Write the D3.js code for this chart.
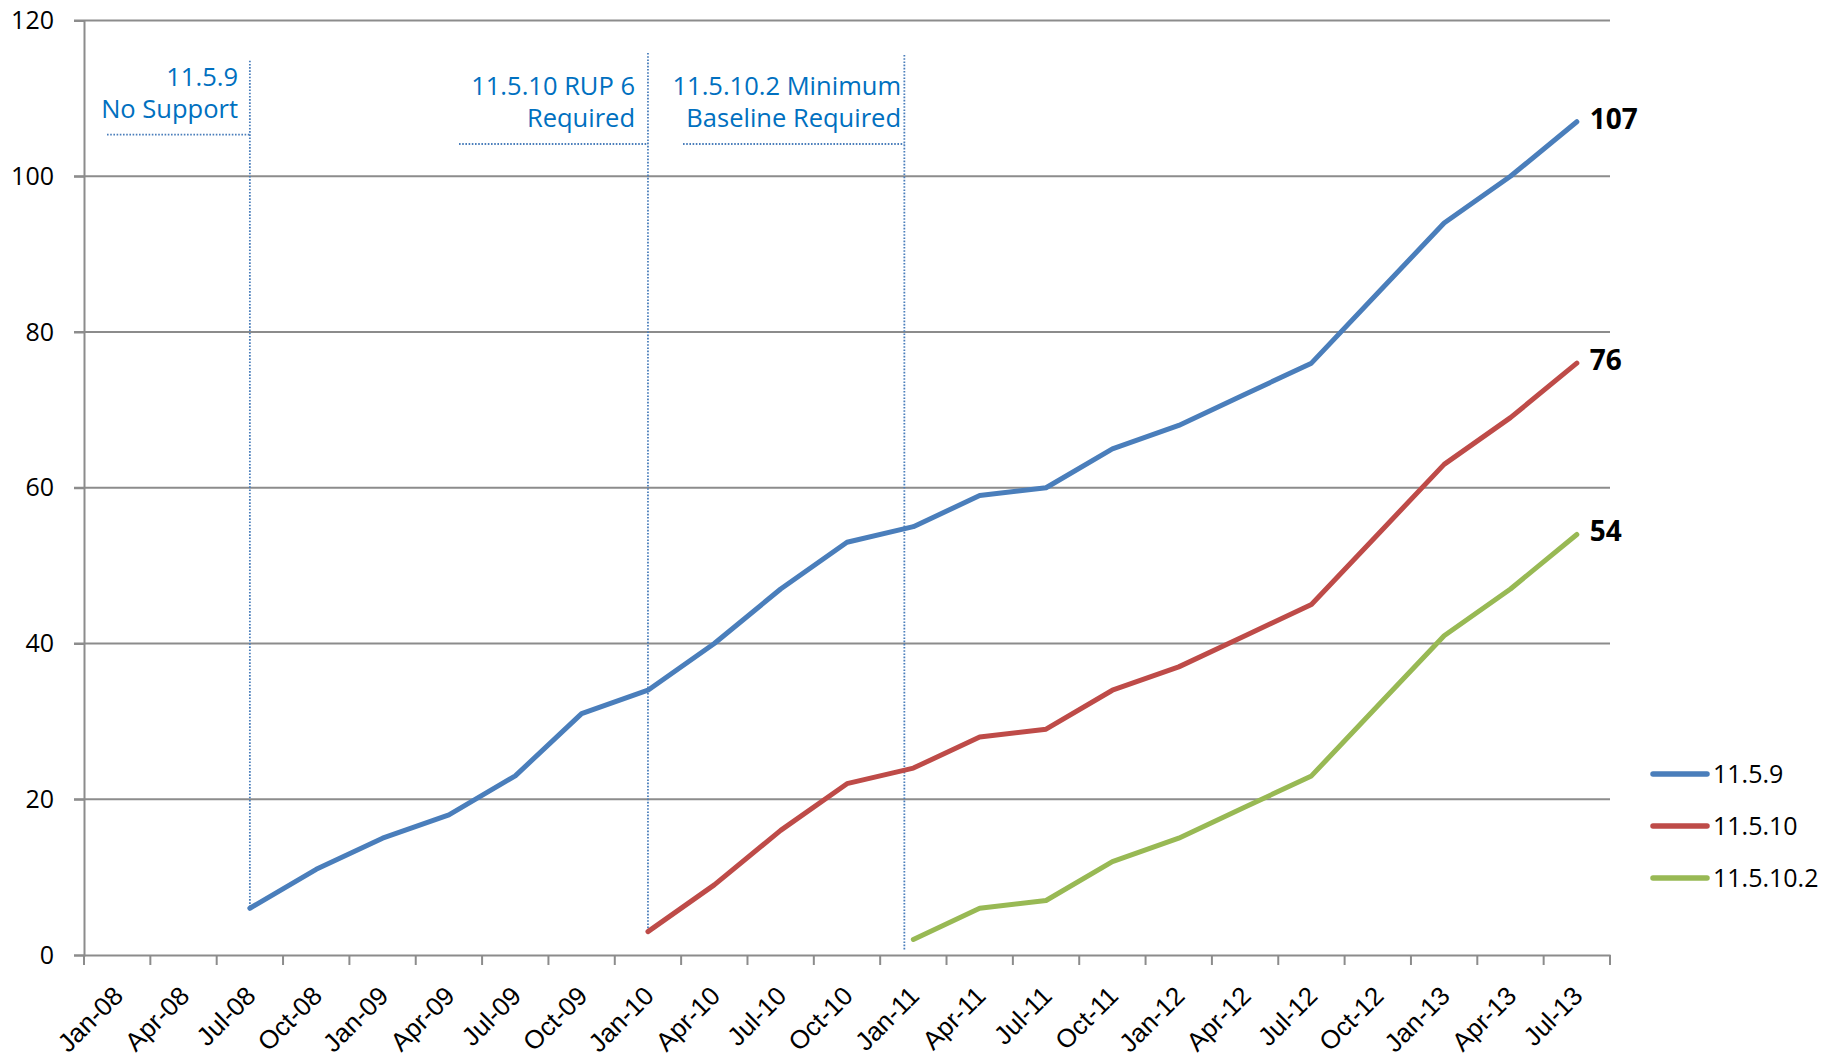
<!DOCTYPE html>
<html><head><meta charset="utf-8">
<script src="https://cdn.jsdelivr.net/npm/d3@7"></script>
<style>
html,body{margin:0;padding:0;background:#fff;}
svg{display:block;font-family:"Open Sans",sans-serif;}
</style></head>
<body><svg id="chart" width="1837" height="1058"></svg>
<script>
const categories = ["Jan-08","Apr-08","Jul-08","Oct-08","Jan-09","Apr-09","Jul-09","Oct-09","Jan-10","Apr-10","Jul-10","Oct-10","Jan-11","Apr-11","Jul-11","Oct-11","Jan-12","Apr-12","Jul-12","Oct-12","Jan-13","Apr-13","Jul-13"];
const seriesNames = ["11.5.9","11.5.10","11.5.10.2"];
const seriesColors = ["#4a7ebb","#be4b48","#98b954"];
const s1159 = [null,null,6,11,15,18,23,31,34,40,47,53,55,59,60,65,68,72,76,85,94,100,107];
const s11510 = [null,null,null,null,null,null,null,null,3,9,16,22,24,28,29,34,37,41,45,54,63,69,76];
const s115102 = [null,null,null,null,null,null,null,null,null,null,null,null,2,6,7,12,15,19,23,32,41,47,54];
const yTicks = [0,20,40,60,80,100,120];
const annotLines = [["11.5.9","No Support"],["11.5.10 RUP 6","Required"],["11.5.10.2 Minimum","Baseline Required"]];
const annotCats = ["Jul-08","Jan-10","Jan-11"];
const annotBottom = [6,3,0.5];

const svg = d3.select("#chart");
const M = {left:84, right:1610, top:20.5, bottom:955};
const x = d3.scaleBand().domain(categories).range([M.left, M.right]).padding(0);
const y = d3.scaleLinear().domain([0,120]).range([M.bottom, M.top]);
const cx = c => x(c) + x.bandwidth()/2;
const grey = "#8c8c8c";

// gridlines
svg.append("g").selectAll("line").data(yTicks.filter(d=>d>0)).join("line")
  .attr("x1", M.left-10).attr("x2", M.right).attr("y1", d=>y(d)).attr("y2", d=>y(d))
  .attr("stroke", grey).attr("stroke-width", 2);

// y axis
const yAxis = svg.append("g").attr("transform",`translate(${M.left},0)`)
  .call(d3.axisLeft(y).tickValues(yTicks).tickSize(10).tickPadding(20));
yAxis.select(".domain").attr("stroke", grey).attr("stroke-width", 2);
yAxis.selectAll(".tick line").attr("stroke", grey).attr("stroke-width", 2);
yAxis.selectAll(".tick text").attr("font-family","Open Sans").attr("font-size", 25).attr("fill","#000");

// x axis
const xAxis = svg.append("g").attr("transform",`translate(0,${M.bottom})`)
  .call(d3.axisBottom(x).tickSize(0).tickFormat(""));
xAxis.select(".domain").attr("stroke", grey).attr("stroke-width", 2);
const bounds = categories.map(c=>x(c)).concat([M.right]);
xAxis.append("g").selectAll("line").data(bounds).join("line")
  .attr("x1", d=>d).attr("x2", d=>d).attr("y1", 0).attr("y2", 10)
  .attr("stroke", grey).attr("stroke-width", 2);
xAxis.append("g").selectAll("text").data(categories).join("text")
  .attr("transform", d=>`translate(${cx(d)+1},${36}) rotate(-45)`)
  .attr("text-anchor","end").attr("dy","0.35em")
  .attr("font-size", 26).attr("fill","#000").text(d=>d);

// annotation guides
const annotColor = "#0070c0";
const dotColor = "#4a7ebb";
const annotOffsets = [0, 0, -9];
const annotTop = [60.7, 53, 55];
const annotTextRight = [238, 635, 901];
const annotHLine = [[107,134.7],[459,144],[683,144]];
const annotBaselines = [[86,118],[95,127],[95,127]];
annotCats.forEach((c,i)=>{
  const vx = cx(c) + annotOffsets[i];
  svg.append("line").attr("x1",vx).attr("x2",vx).attr("y1",annotTop[i]).attr("y2",y(annotBottom[i]))
    .attr("stroke",dotColor).attr("stroke-width",1.8).attr("stroke-dasharray","1.6 1.6");
  svg.append("line").attr("x1",annotHLine[i][0]).attr("x2",vx).attr("y1",annotHLine[i][1]).attr("y2",annotHLine[i][1])
    .attr("stroke",dotColor).attr("stroke-width",1.8).attr("stroke-dasharray","1.6 1.6");
  annotLines[i].forEach((t,j)=>{
    svg.append("text").attr("x",annotTextRight[i]).attr("y",annotBaselines[i][j])
      .attr("text-anchor","end").attr("font-size",25.5).attr("fill",annotColor).text(t);
  });
});

// series lines
const allSeries = [s1159, s11510, s115102];
const line = d3.line().defined(d=>d.v!=null).x(d=>cx(d.c)).y(d=>y(d.v));
allSeries.forEach((s,i)=>{
  const pts = s.map((v,k)=>({c:categories[k], v}));
  svg.append("path").datum(pts).attr("d", line).attr("fill","none")
    .attr("stroke", seriesColors[i]).attr("stroke-width",5)
    .attr("stroke-linecap","round").attr("stroke-linejoin","round");
  const last = pts[pts.length-1];
  svg.append("text").attr("x", cx(last.c)+13).attr("y", y(last.v)+7)
    .attr("font-size",28).attr("font-weight","bold").attr("fill","#000").text(last.v);
});

// legend
const legY = [774, 826, 878];
seriesNames.forEach((n,i)=>{
  svg.append("line").attr("x1",1653).attr("x2",1707).attr("y1",legY[i]).attr("y2",legY[i])
    .attr("stroke",seriesColors[i]).attr("stroke-width",5.5).attr("stroke-linecap","round");
  svg.append("text").attr("x",1713).attr("y",legY[i]+9).attr("font-size",25).attr("fill","#000").text(n);
});
</script></body></html>
